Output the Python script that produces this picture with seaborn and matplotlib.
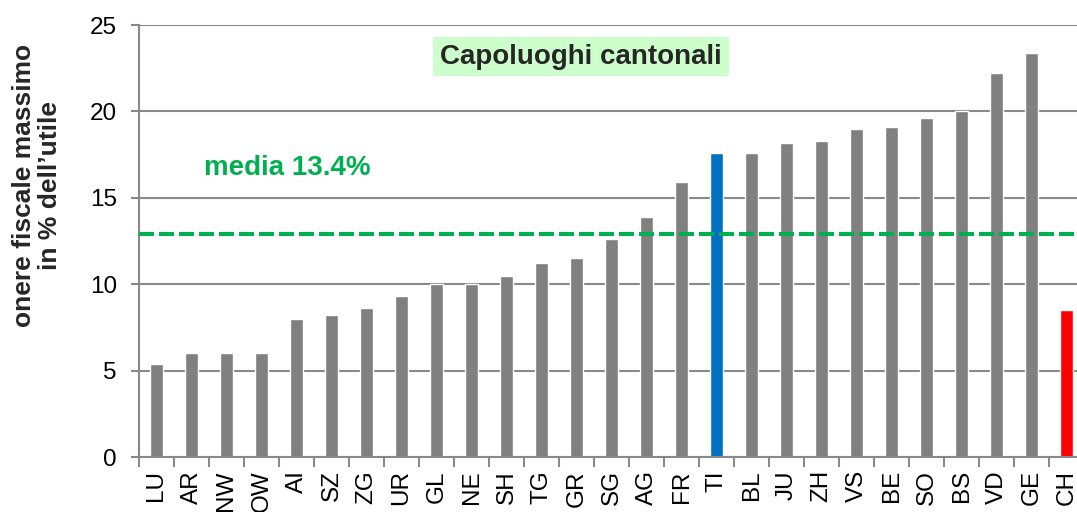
import matplotlib
matplotlib.use("Agg")
import matplotlib.pyplot as plt
from matplotlib.ticker import MultipleLocator, FixedLocator
import seaborn as sns

# Data
cantons = ["LU", "AR", "NW", "OW", "AI", "SZ", "ZG", "UR", "GL", "NE", "SH", "TG", "GR", "SG",
           "AG", "FR", "TI", "BL", "JU", "ZH", "VS", "BE", "SO", "BS", "VD", "GE", "CH"]
onere = [5.4, 6.0, 6.0, 6.0, 8.0, 8.2, 8.6, 9.3, 10.0, 10.0, 10.5, 11.2, 11.5, 12.6,
         13.9, 15.9, 17.6, 17.6, 18.2, 18.3, 19.0, 19.1, 19.6, 20.0, 22.2, 23.4, 8.5]
media_line = 12.9
media_label = "media 13.4%"

colors = ["#0070C0" if c == "TI" else "#FF0000" if c == "CH" else "#808080" for c in cantons]

sns.set_style("white")
plt.rcParams["font.family"] = ["Liberation Sans", "DejaVu Sans"]

fig = plt.figure(figsize=(10.77, 5.12), dpi=100)
ax = fig.add_axes([139 / 1077, 1 - 457 / 512, 945 / 1077, 432 / 512])

sns.barplot(x=cantons, y=onere, hue=cantons, palette=colors, legend=False,
            width=0.38, saturation=1, ax=ax)

ax.set_xlim(-0.5, len(cantons) - 0.5)
ax.set_ylim(0, 25)
ax.yaxis.set_major_locator(MultipleLocator(5))
ax.grid(axis="y", color="#898989", linewidth=1.5)
ax.set_axisbelow(True)
for s in ["top", "right"]:
    ax.spines[s].set_visible(False)
for s in ["left", "bottom"]:
    ax.spines[s].set_color("#898989")
    ax.spines[s].set_linewidth(1.5)

# mean line
ax.axhline(media_line, color="#00B050", linewidth=3, linestyle=(0, (3.6, 1.2)), zorder=3)
ax.text(1.35, 16.7, media_label, color="#00B050", fontsize=20, fontweight="bold",
        ha="left", va="center")

# tick styling
ax.tick_params(axis="y", left=True, length=6, width=1.5, color="#898989", labelsize=17.5,
               pad=10, labelcolor="black")
ax.tick_params(axis="x", bottom=False, labelsize=17.5, labelrotation=90, pad=6,
               labelcolor="black")
ax.xaxis.set_minor_locator(FixedLocator([i - 0.5 for i in range(len(cantons) + 1)]))
ax.tick_params(axis="x", which="minor", bottom=True, length=7, width=1.5, color="#898989")
ax.set_xlabel("")
ax.set_ylabel("")

fig.text(37 / 1077, 1 - 185 / 512, "onere fiscale massimo\nin % dell\u2019utile",
         rotation=90, ha="center", va="center", fontsize=19, fontweight="bold",
         multialignment="center", linespacing=1.1)

ax.text(581 / 1077, 1 - 56.5 / 512, "Capoluoghi cantonali", transform=fig.transFigure,
        fontsize=20, fontweight="bold", ha="center", va="center",
        bbox=dict(facecolor="#CCFFCC", edgecolor="none", boxstyle="square,pad=0.25"))

fig.savefig("out.png", dpi=100)
